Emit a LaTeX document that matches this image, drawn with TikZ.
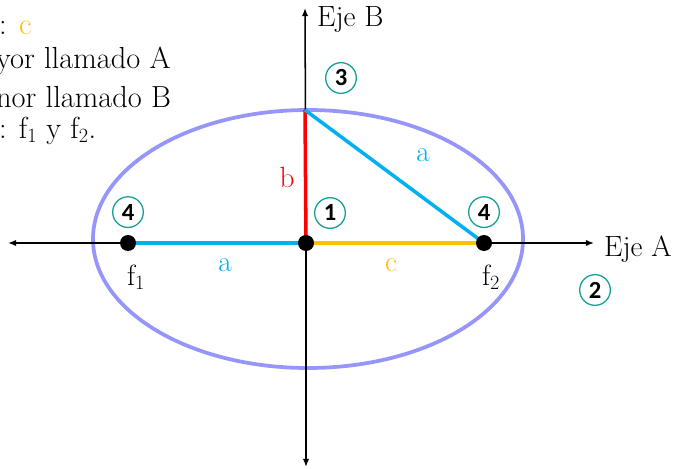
\documentclass[tikz,border=0pt]{standalone}
\usepackage{fontspec}
\newfontfamily\numfont{Carlito}
\usetikzlibrary{arrows.meta,positioning}
\definecolor{elipcol}{RGB}{150,150,250}
\definecolor{cyanline}{RGB}{0,176,240}
\definecolor{goldline}{RGB}{255,192,0}
\definecolor{tealring}{RGB}{20,160,150}

\begin{document}
\begin{tikzpicture}[
    x=0.03cm, y=0.03cm,
    >={Latex[length=7pt,width=5.5pt]},
    axis/.style={->, line width=1.3pt, black},
    elip/.style={draw=elipcol, line width=3.2pt},
    seg/.style={line width=3pt},
    dot/.style={circle, fill=black, minimum size=0.48cm, inner sep=0pt},
    ring/.style={circle, draw=tealring, line width=1.1pt, minimum size=0.92cm,
                 inner sep=0pt, font=\numfont\fontsize{21}{21}\selectfont\bfseries},
    lbl/.style={font=\fontsize{25}{27}\selectfont},
    note/.style={anchor=west, font=\fontsize{26}{28}\selectfont}
]
\useasboundingbox (0,0) rectangle (679,468);

%% ── Points ───────────────────────────────────────────────────────
\coordinate (centre) at (308,229);
\coordinate (xl) at (8,225);
\coordinate (xr) at (594,225);
\coordinate (yt) at (305,460);
\coordinate (yb) at (306,1);
\coordinate (O)  at (306,225);
\coordinate (F1) at (128,225);
\coordinate (F2) at (484,225);
\coordinate (top) at (305,358);

%% ── Ellipse and axes ─────────────────────────────────────────────
\draw[elip] (centre) ellipse [x radius=6.45cm, y radius=3.87cm];
\draw[axis] (O) -- (xl);
\draw[axis] (O) -- (xr);
\draw[axis] (O) -- (yt);
\draw[axis] (O) -- (yb);

%% ── Segments ─────────────────────────────────────────────────────
\draw[seg, cyanline] (F1) -- (O);
\draw[seg, goldline] (O) -- (F2);
\draw[seg, red] (O) -- (top);
\draw[seg, cyanline] (top) -- (F2);

\node[dot] (f1) at (F1) {};
\node[dot] (f2) at (F2) {};
\node[dot] (origin) at (O) {};

%% ── Segment labels ───────────────────────────────────────────────
\node[lbl, text=red]      (lb)  at (287,291) {b};
\node[lbl, text=cyanline] (la1) at (423,313) {a};
\node[lbl, text=cyanline] (la2) at (225,203) {a};
\node[lbl, text=goldline] (lc)  at (391,203) {c};
\node[lbl] (lf1) at (136,191) {f$_1$};
\node[lbl] (lf2) at (491,191) {f$_2$};

%% ── Axis names ───────────────────────────────────────────────────
\node[lbl, anchor=west] (ejeB) at (313,449) {Eje B};
\node[lbl, anchor=west] (ejeA) at (600,219) {Eje A};

%% ── Circled numbers ──────────────────────────────────────────────
\node[ring] (n1) at (330,255) {1};
\node[ring] (n2) at (595,178) {2};
\node[ring] (n3) at (341,390) {3};
\node[ring, above=0.2cm of f1] (n4a) {4};
\node[ring, above=0.2cm of f2] (n4b) {4};

%% ── Cut-off legend ───────────────────────────────────────────────
\node[note] (t1) at (-5,440) {: \textcolor{goldline}{c}};
\node[note] (t2) at (-8,407) {yor llamado A};
\node[note] (t3) at (-8,371) {nor llamado B};
\node[note] (t4) at (-5,337) {: f$_1$ y f$_2$.};

\end{tikzpicture}
\end{document}
